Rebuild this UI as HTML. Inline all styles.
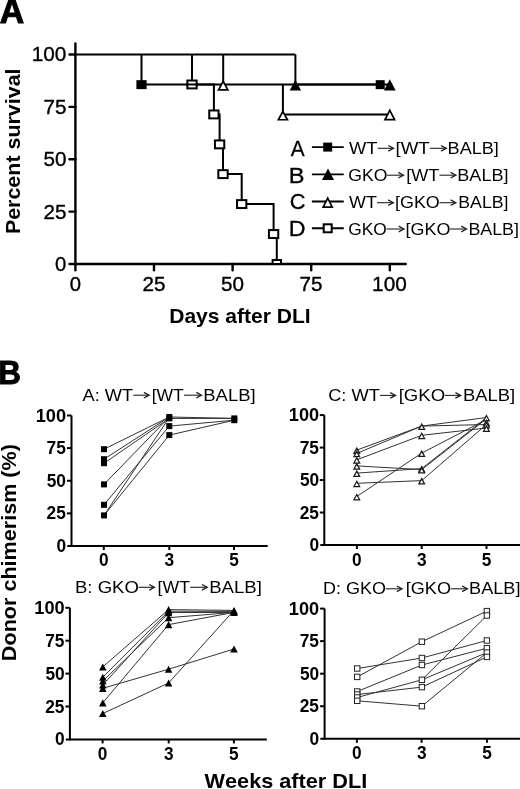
<!DOCTYPE html>
<html><head><meta charset="utf-8"><style>
html,body{margin:0;padding:0;background:#fff;}
svg{display:block;filter:grayscale(1);font-family:"Liberation Sans",sans-serif;font-kerning:none;}
</style></head><body>
<svg width="520" height="789" viewBox="0 0 520 789">
<rect width="520" height="789" fill="#fff"/>
<text x="-0.34" y="23.30" font-size="34.5" font-weight="bold" textLength="24.43" lengthAdjust="spacingAndGlyphs" fill="#000" stroke="#000" stroke-width="1.0" stroke-linejoin="miter">A</text>
<line x1="75.40" y1="43.40" x2="75.40" y2="270.20" stroke="#000" stroke-width="2.4" stroke-linecap="round"/>
<line x1="69.50" y1="264.00" x2="405.80" y2="264.00" stroke="#000" stroke-width="2.4" stroke-linecap="round"/>
<line x1="69.50" y1="54.50" x2="75.40" y2="54.50" stroke="#000" stroke-width="2.4" stroke-linecap="round"/>
<line x1="69.50" y1="106.87" x2="75.40" y2="106.87" stroke="#000" stroke-width="2.4" stroke-linecap="round"/>
<line x1="69.50" y1="159.25" x2="75.40" y2="159.25" stroke="#000" stroke-width="2.4" stroke-linecap="round"/>
<line x1="69.50" y1="211.62" x2="75.40" y2="211.62" stroke="#000" stroke-width="2.4" stroke-linecap="round"/>
<line x1="154.00" y1="264.00" x2="154.00" y2="270.20" stroke="#000" stroke-width="2.4" stroke-linecap="round"/>
<line x1="232.60" y1="264.00" x2="232.60" y2="270.20" stroke="#000" stroke-width="2.4" stroke-linecap="round"/>
<line x1="311.20" y1="264.00" x2="311.20" y2="270.20" stroke="#000" stroke-width="2.4" stroke-linecap="round"/>
<line x1="389.80" y1="264.00" x2="389.80" y2="270.20" stroke="#000" stroke-width="2.4" stroke-linecap="round"/>
<text x="31.77" y="61.40" font-size="20" stroke="#000" stroke-width="0.35" textLength="34.66" lengthAdjust="spacingAndGlyphs">100</text>
<text x="43.52" y="113.77" font-size="20" stroke="#000" stroke-width="0.35" textLength="22.98" lengthAdjust="spacingAndGlyphs">75</text>
<text x="43.45" y="166.15" font-size="20" stroke="#000" stroke-width="0.35" textLength="22.98" lengthAdjust="spacingAndGlyphs">50</text>
<text x="43.52" y="218.53" font-size="20" stroke="#000" stroke-width="0.35" textLength="22.98" lengthAdjust="spacingAndGlyphs">25</text>
<text x="55.14" y="270.90" font-size="20" stroke="#000" stroke-width="0.35" textLength="11.27" lengthAdjust="spacingAndGlyphs">0</text>
<text x="69.76" y="290.80" font-size="20" stroke="#000" stroke-width="0.35" textLength="11.27" lengthAdjust="spacingAndGlyphs">0</text>
<text x="142.43" y="290.80" font-size="20" stroke="#000" stroke-width="0.35" textLength="22.98" lengthAdjust="spacingAndGlyphs">25</text>
<text x="221.10" y="290.80" font-size="20" stroke="#000" stroke-width="0.35" textLength="22.98" lengthAdjust="spacingAndGlyphs">50</text>
<text x="299.62" y="290.80" font-size="20" stroke="#000" stroke-width="0.35" textLength="22.98" lengthAdjust="spacingAndGlyphs">75</text>
<text x="372.08" y="290.80" font-size="20" stroke="#000" stroke-width="0.35" textLength="34.66" lengthAdjust="spacingAndGlyphs">100</text>
<text transform="translate(19.90,232.70) rotate(-90)" x="-1.43" y="0" font-size="21" font-weight="bold" textLength="165.65" lengthAdjust="spacingAndGlyphs">Percent survival</text>
<text x="169.19" y="322.80" font-size="20.5" font-weight="bold" textLength="141.52" lengthAdjust="spacingAndGlyphs" fill="#000">Days after DLI</text>
<line x1="75.40" y1="54.50" x2="295.40" y2="54.50" stroke="#000" stroke-width="2.0" stroke-linecap="butt"/>
<line x1="141.50" y1="54.50" x2="141.50" y2="84.46" stroke="#000" stroke-width="2.0" stroke-linecap="butt"/>
<line x1="192.00" y1="54.50" x2="192.00" y2="84.46" stroke="#000" stroke-width="2.0" stroke-linecap="butt"/>
<line x1="223.20" y1="54.50" x2="223.20" y2="84.46" stroke="#000" stroke-width="2.0" stroke-linecap="butt"/>
<line x1="295.40" y1="54.50" x2="295.40" y2="84.46" stroke="#000" stroke-width="2.0" stroke-linecap="butt"/>
<line x1="141.50" y1="84.46" x2="380.20" y2="84.46" stroke="#000" stroke-width="2.0" stroke-linecap="butt"/>
<line x1="295.40" y1="84.46" x2="389.80" y2="84.46" stroke="#000" stroke-width="2.0" stroke-linecap="butt"/>
<path d="M192.00 84.46 L213.90 84.46 L213.90 114.42 L219.60 114.42 L219.60 144.38 L223.00 144.38 L223.00 174.12 L241.70 174.12 L241.70 204.08 L273.60 204.08 L273.60 234.04 L276.80 234.04 L276.80 264.00" stroke="#000" stroke-width="2.0" fill="none" stroke-linejoin="miter"/>
<path d="M282.90 84.46 L282.90 114.42 L389.80 114.42" stroke="#000" stroke-width="2.0" fill="none" stroke-linejoin="miter"/>
<rect x="187.35" y="80.51" width="9.30" height="7.90" fill="#fff" stroke="#000" stroke-width="2"/>
<rect x="209.25" y="110.47" width="9.30" height="7.90" fill="#fff" stroke="#000" stroke-width="2"/>
<rect x="214.95" y="140.43" width="9.30" height="7.90" fill="#fff" stroke="#000" stroke-width="2"/>
<rect x="218.35" y="170.17" width="9.30" height="7.90" fill="#fff" stroke="#000" stroke-width="2"/>
<rect x="237.05" y="200.13" width="9.30" height="7.90" fill="#fff" stroke="#000" stroke-width="2"/>
<rect x="268.95" y="230.09" width="9.30" height="7.90" fill="#fff" stroke="#000" stroke-width="2"/>
<line x1="186.00" y1="84.46" x2="198.00" y2="84.46" stroke="#000" stroke-width="2.0" stroke-linecap="butt"/>
<clipPath id="cpA"><rect x="0" y="0" width="520" height="263"/></clipPath>
<g clip-path="url(#cpA)">
<rect x="272.60" y="260.00" width="8.40" height="8.00" fill="#fff" stroke="#000" stroke-width="2"/>
</g>
<rect x="136.40" y="80.16" width="10.20" height="9.00" fill="#000"/>
<rect x="375.70" y="80.16" width="9.00" height="9.00" fill="#000"/>
<path d="M295.40 79.86L301.10 90.46L289.70 90.46Z" fill="#000"/>
<path d="M389.80 79.16L395.70 90.56L383.90 90.56Z" fill="#000"/>
<path d="M223.20 81.32L227.86 89.81L218.54 89.81Z" fill="#fff" stroke="#000" stroke-width="1.7" stroke-linejoin="miter" stroke-miterlimit="10"/>
<path d="M282.90 111.57L287.46 119.77L278.34 119.77Z" fill="#fff" stroke="#000" stroke-width="1.7" stroke-linejoin="miter" stroke-miterlimit="10"/>
<path d="M389.80 110.46L394.60 119.67L385.00 119.67Z" fill="#fff" stroke="#000" stroke-width="1.7" stroke-linejoin="miter" stroke-miterlimit="10"/>
<text x="290.71" y="156.30" font-size="22" textLength="13.88" lengthAdjust="spacingAndGlyphs" fill="#000" stroke="#000" stroke-width="0.3" stroke-linejoin="miter">A</text>
<line x1="311.90" y1="147.10" x2="343.75" y2="147.10" stroke="#000" stroke-width="1.8" stroke-linecap="butt"/>
<text x="288.81" y="182.90" font-size="22" textLength="15.79" lengthAdjust="spacingAndGlyphs" fill="#000" stroke="#000" stroke-width="0.3" stroke-linejoin="miter">B</text>
<line x1="311.90" y1="174.40" x2="343.75" y2="174.40" stroke="#000" stroke-width="1.8" stroke-linecap="butt"/>
<text x="289.64" y="209.00" font-size="22" textLength="15.74" lengthAdjust="spacingAndGlyphs" fill="#000" stroke="#000" stroke-width="0.3" stroke-linejoin="miter">C</text>
<line x1="311.90" y1="201.50" x2="343.75" y2="201.50" stroke="#000" stroke-width="1.8" stroke-linecap="butt"/>
<text x="288.84" y="235.50" font-size="22" textLength="16.83" lengthAdjust="spacingAndGlyphs" fill="#000" stroke="#000" stroke-width="0.3" stroke-linejoin="miter">D</text>
<line x1="311.90" y1="228.25" x2="343.75" y2="228.25" stroke="#000" stroke-width="1.8" stroke-linecap="butt"/>
<rect x="323.20" y="142.60" width="9.00" height="9.00" fill="#000"/>
<path d="M328.00 168.60L334.00 180.00L322.00 180.00Z" fill="#000"/>
<path d="M327.70 198.17L332.21 207.05L323.19 207.05Z" fill="#fff" stroke="#000" stroke-width="1.7" stroke-linejoin="miter" stroke-miterlimit="10"/>
<rect x="323.70" y="224.30" width="8.00" height="8.00" fill="#fff" stroke="#000" stroke-width="2"/>
<text x="349.02" y="153.50" font-size="16.8" textLength="28.40" lengthAdjust="spacingAndGlyphs" fill="#000">WT</text>
<text x="395.47" y="153.50" font-size="16.8" textLength="34.26" lengthAdjust="spacingAndGlyphs" fill="#000">[WT</text>
<text x="447.62" y="153.50" font-size="16.8" textLength="51.27" lengthAdjust="spacingAndGlyphs" fill="#000">BALB]</text>
<path d="M377.80 148.30H393.00" stroke="#222" stroke-width="1.1" fill="none"/>
<path d="M388.30 145.50L393.50 148.30L388.30 151.10" stroke="#222" stroke-width="1.35" fill="none" stroke-linejoin="miter"/>
<path d="M429.90 148.30H445.70" stroke="#222" stroke-width="1.1" fill="none"/>
<path d="M441.00 145.50L446.20 148.30L441.00 151.10" stroke="#222" stroke-width="1.35" fill="none" stroke-linejoin="miter"/>
<text x="348.21" y="180.60" font-size="16.8" textLength="39.13" lengthAdjust="spacingAndGlyphs" fill="#000">GKO</text>
<text x="406.32" y="180.60" font-size="16.8" textLength="33.00" lengthAdjust="spacingAndGlyphs" fill="#000">[WT</text>
<text x="457.32" y="180.60" font-size="16.8" textLength="51.17" lengthAdjust="spacingAndGlyphs" fill="#000">BALB]</text>
<path d="M387.00 175.20H403.00" stroke="#222" stroke-width="1.1" fill="none"/>
<path d="M398.30 172.40L403.50 175.20L398.30 178.00" stroke="#222" stroke-width="1.35" fill="none" stroke-linejoin="miter"/>
<path d="M439.50 175.20H455.30" stroke="#222" stroke-width="1.1" fill="none"/>
<path d="M450.60 172.40L455.80 175.20L450.60 178.00" stroke="#222" stroke-width="1.35" fill="none" stroke-linejoin="miter"/>
<text x="349.02" y="208.40" font-size="16.8" textLength="27.79" lengthAdjust="spacingAndGlyphs" fill="#000">WT</text>
<text x="395.02" y="208.40" font-size="16.8" textLength="44.73" lengthAdjust="spacingAndGlyphs" fill="#000">[GKO</text>
<text x="458.25" y="208.40" font-size="16.8" textLength="50.22" lengthAdjust="spacingAndGlyphs" fill="#000">BALB]</text>
<path d="M377.00 202.70H392.80" stroke="#222" stroke-width="1.1" fill="none"/>
<path d="M388.10 199.90L393.30 202.70L388.10 205.50" stroke="#222" stroke-width="1.35" fill="none" stroke-linejoin="miter"/>
<path d="M439.50 202.70H455.30" stroke="#222" stroke-width="1.1" fill="none"/>
<path d="M450.60 199.90L455.80 202.70L450.60 205.50" stroke="#222" stroke-width="1.35" fill="none" stroke-linejoin="miter"/>
<text x="348.23" y="234.60" font-size="16.8" textLength="38.60" lengthAdjust="spacingAndGlyphs" fill="#000">GKO</text>
<text x="405.52" y="234.60" font-size="16.8" textLength="44.84" lengthAdjust="spacingAndGlyphs" fill="#000">[GKO</text>
<text x="468.44" y="234.60" font-size="16.8" textLength="50.53" lengthAdjust="spacingAndGlyphs" fill="#000">BALB]</text>
<path d="M386.60 229.00H403.40" stroke="#222" stroke-width="1.1" fill="none"/>
<path d="M398.70 226.20L403.90 229.00L398.70 231.80" stroke="#222" stroke-width="1.35" fill="none" stroke-linejoin="miter"/>
<path d="M450.10 229.00H465.90" stroke="#222" stroke-width="1.1" fill="none"/>
<path d="M461.20 226.20L466.40 229.00L461.20 231.80" stroke="#222" stroke-width="1.35" fill="none" stroke-linejoin="miter"/>
<text x="-1.57" y="384.20" font-size="33.5" font-weight="bold" textLength="22.38" lengthAdjust="spacingAndGlyphs" fill="#000" stroke="#000" stroke-width="1.0" stroke-linejoin="miter">B</text>
<text transform="translate(15.80,659.70) rotate(-90)" x="-1.44" y="0" font-size="21" font-weight="bold" textLength="217.02" lengthAdjust="spacingAndGlyphs">Donor chimerism (%)</text>
<text x="204.58" y="787.80" font-size="20.5" font-weight="bold" textLength="162.67" lengthAdjust="spacingAndGlyphs" fill="#000">Weeks after DLI</text>
<text x="82.56" y="400.60" font-size="16.8" textLength="50.55" lengthAdjust="spacingAndGlyphs" fill="#000">A: WT</text>
<text x="151.65" y="400.60" font-size="16.8" textLength="32.15" lengthAdjust="spacingAndGlyphs" fill="#000">[WT</text>
<text x="203.29" y="400.60" font-size="16.8" textLength="52.33" lengthAdjust="spacingAndGlyphs" fill="#000">BALB]</text>
<path d="M133.30 395.20H148.60" stroke="#222" stroke-width="1.1" fill="none"/>
<path d="M143.90 392.40L149.10 395.20L143.90 398.00" stroke="#222" stroke-width="1.35" fill="none" stroke-linejoin="miter"/>
<path d="M184.00 395.20H201.00" stroke="#222" stroke-width="1.1" fill="none"/>
<path d="M196.30 392.40L201.50 395.20L196.30 398.00" stroke="#222" stroke-width="1.35" fill="none" stroke-linejoin="miter"/>
<text x="328.17" y="400.80" font-size="16.8" textLength="51.75" lengthAdjust="spacingAndGlyphs" fill="#000">C: WT</text>
<text x="398.67" y="400.80" font-size="16.8" textLength="46.52" lengthAdjust="spacingAndGlyphs" fill="#000">[GKO</text>
<text x="462.99" y="400.80" font-size="16.8" textLength="52.22" lengthAdjust="spacingAndGlyphs" fill="#000">BALB]</text>
<path d="M380.10 395.40H395.00" stroke="#222" stroke-width="1.1" fill="none"/>
<path d="M390.30 392.60L395.50 395.40L390.30 398.20" stroke="#222" stroke-width="1.35" fill="none" stroke-linejoin="miter"/>
<path d="M444.90 395.40H460.10" stroke="#222" stroke-width="1.1" fill="none"/>
<path d="M455.40 392.60L460.60 395.40L455.40 398.20" stroke="#222" stroke-width="1.35" fill="none" stroke-linejoin="miter"/>
<text x="74.98" y="592.80" font-size="16.8" textLength="63.91" lengthAdjust="spacingAndGlyphs" fill="#000">B: GKO</text>
<text x="157.64" y="592.80" font-size="16.8" textLength="32.36" lengthAdjust="spacingAndGlyphs" fill="#000">[WT</text>
<text x="209.18" y="592.80" font-size="16.8" textLength="52.65" lengthAdjust="spacingAndGlyphs" fill="#000">BALB]</text>
<path d="M138.60 587.30H153.90" stroke="#222" stroke-width="1.1" fill="none"/>
<path d="M149.20 584.50L154.40 587.30L149.20 590.10" stroke="#222" stroke-width="1.35" fill="none" stroke-linejoin="miter"/>
<path d="M190.20 587.30H206.70" stroke="#222" stroke-width="1.1" fill="none"/>
<path d="M202.00 584.50L207.20 587.30L202.00 590.10" stroke="#222" stroke-width="1.35" fill="none" stroke-linejoin="miter"/>
<text x="323.03" y="594.40" font-size="16.8" textLength="62.94" lengthAdjust="spacingAndGlyphs" fill="#000">D: GKO</text>
<text x="405.71" y="594.40" font-size="16.8" textLength="45.26" lengthAdjust="spacingAndGlyphs" fill="#000">[GKO</text>
<text x="469.11" y="594.40" font-size="16.8" textLength="51.38" lengthAdjust="spacingAndGlyphs" fill="#000">BALB]</text>
<path d="M385.70 588.80H401.50" stroke="#222" stroke-width="1.1" fill="none"/>
<path d="M396.80 586.00L402.00 588.80L396.80 591.60" stroke="#222" stroke-width="1.35" fill="none" stroke-linejoin="miter"/>
<path d="M450.70 588.80H466.80" stroke="#222" stroke-width="1.1" fill="none"/>
<path d="M462.10 586.00L467.30 588.80L462.10 591.60" stroke="#222" stroke-width="1.35" fill="none" stroke-linejoin="miter"/>
<line x1="71.50" y1="415.50" x2="71.50" y2="547.00" stroke="#000" stroke-width="2" stroke-linecap="butt"/>
<line x1="67.30" y1="546.00" x2="267.70" y2="546.00" stroke="#000" stroke-width="2" stroke-linecap="butt"/>
<line x1="67.00" y1="415.50" x2="71.50" y2="415.50" stroke="#000" stroke-width="2" stroke-linecap="butt"/>
<line x1="67.00" y1="448.12" x2="71.50" y2="448.12" stroke="#000" stroke-width="2" stroke-linecap="butt"/>
<line x1="67.00" y1="480.75" x2="71.50" y2="480.75" stroke="#000" stroke-width="2" stroke-linecap="butt"/>
<line x1="67.00" y1="513.38" x2="71.50" y2="513.38" stroke="#000" stroke-width="2" stroke-linecap="butt"/>
<line x1="103.80" y1="546.00" x2="103.80" y2="550.00" stroke="#000" stroke-width="2" stroke-linecap="butt"/>
<line x1="169.30" y1="546.00" x2="169.30" y2="550.00" stroke="#000" stroke-width="2" stroke-linecap="butt"/>
<line x1="234.00" y1="546.00" x2="234.00" y2="550.00" stroke="#000" stroke-width="2" stroke-linecap="butt"/>
<text x="35.68" y="421.50" font-size="17.5" font-weight="bold" textLength="30.37" lengthAdjust="spacingAndGlyphs">100</text>
<text x="46.51" y="454.12" font-size="17.5" font-weight="bold" textLength="19.27" lengthAdjust="spacingAndGlyphs">75</text>
<text x="46.74" y="486.75" font-size="17.5" font-weight="bold" textLength="19.27" lengthAdjust="spacingAndGlyphs">50</text>
<text x="46.51" y="519.38" font-size="17.5" font-weight="bold" textLength="19.27" lengthAdjust="spacingAndGlyphs">25</text>
<text x="56.38" y="552.00" font-size="17.5" font-weight="bold" textLength="9.64" lengthAdjust="spacingAndGlyphs">0</text>
<text x="99.01" y="565.60" font-size="17.8" font-weight="bold" textLength="9.60" lengthAdjust="spacingAndGlyphs">0</text>
<text x="164.61" y="565.60" font-size="17.8" font-weight="bold" textLength="9.60" lengthAdjust="spacingAndGlyphs">3</text>
<text x="229.17" y="565.60" font-size="17.8" font-weight="bold" textLength="9.60" lengthAdjust="spacingAndGlyphs">5</text>
<line x1="324.30" y1="415.10" x2="324.30" y2="546.00" stroke="#000" stroke-width="2" stroke-linecap="butt"/>
<line x1="320.30" y1="545.00" x2="521.00" y2="545.00" stroke="#000" stroke-width="2" stroke-linecap="butt"/>
<line x1="319.80" y1="415.10" x2="324.30" y2="415.10" stroke="#000" stroke-width="2" stroke-linecap="butt"/>
<line x1="319.80" y1="447.58" x2="324.30" y2="447.58" stroke="#000" stroke-width="2" stroke-linecap="butt"/>
<line x1="319.80" y1="480.05" x2="324.30" y2="480.05" stroke="#000" stroke-width="2" stroke-linecap="butt"/>
<line x1="319.80" y1="512.52" x2="324.30" y2="512.52" stroke="#000" stroke-width="2" stroke-linecap="butt"/>
<line x1="356.90" y1="545.00" x2="356.90" y2="549.00" stroke="#000" stroke-width="2" stroke-linecap="butt"/>
<line x1="421.70" y1="545.00" x2="421.70" y2="549.00" stroke="#000" stroke-width="2" stroke-linecap="butt"/>
<line x1="486.50" y1="545.00" x2="486.50" y2="549.00" stroke="#000" stroke-width="2" stroke-linecap="butt"/>
<text x="288.88" y="421.10" font-size="17.5" font-weight="bold" textLength="30.37" lengthAdjust="spacingAndGlyphs">100</text>
<text x="299.71" y="453.58" font-size="17.5" font-weight="bold" textLength="19.27" lengthAdjust="spacingAndGlyphs">75</text>
<text x="299.94" y="486.05" font-size="17.5" font-weight="bold" textLength="19.27" lengthAdjust="spacingAndGlyphs">50</text>
<text x="299.71" y="518.52" font-size="17.5" font-weight="bold" textLength="19.27" lengthAdjust="spacingAndGlyphs">25</text>
<text x="309.58" y="551.00" font-size="17.5" font-weight="bold" textLength="9.64" lengthAdjust="spacingAndGlyphs">0</text>
<text x="352.11" y="565.90" font-size="17.8" font-weight="bold" textLength="9.60" lengthAdjust="spacingAndGlyphs">0</text>
<text x="417.01" y="565.90" font-size="17.8" font-weight="bold" textLength="9.60" lengthAdjust="spacingAndGlyphs">3</text>
<text x="481.67" y="565.90" font-size="17.8" font-weight="bold" textLength="9.60" lengthAdjust="spacingAndGlyphs">5</text>
<line x1="69.90" y1="607.80" x2="69.90" y2="740.40" stroke="#000" stroke-width="2" stroke-linecap="butt"/>
<line x1="65.80" y1="739.40" x2="266.80" y2="739.40" stroke="#000" stroke-width="2" stroke-linecap="butt"/>
<line x1="65.40" y1="607.80" x2="69.90" y2="607.80" stroke="#000" stroke-width="2" stroke-linecap="butt"/>
<line x1="65.40" y1="640.70" x2="69.90" y2="640.70" stroke="#000" stroke-width="2" stroke-linecap="butt"/>
<line x1="65.40" y1="673.60" x2="69.90" y2="673.60" stroke="#000" stroke-width="2" stroke-linecap="butt"/>
<line x1="65.40" y1="706.50" x2="69.90" y2="706.50" stroke="#000" stroke-width="2" stroke-linecap="butt"/>
<line x1="102.60" y1="739.40" x2="102.60" y2="743.40" stroke="#000" stroke-width="2" stroke-linecap="butt"/>
<line x1="168.70" y1="739.40" x2="168.70" y2="743.40" stroke="#000" stroke-width="2" stroke-linecap="butt"/>
<line x1="233.90" y1="739.40" x2="233.90" y2="743.40" stroke="#000" stroke-width="2" stroke-linecap="butt"/>
<text x="34.38" y="613.80" font-size="17.5" font-weight="bold" textLength="30.37" lengthAdjust="spacingAndGlyphs">100</text>
<text x="45.21" y="646.70" font-size="17.5" font-weight="bold" textLength="19.27" lengthAdjust="spacingAndGlyphs">75</text>
<text x="45.44" y="679.60" font-size="17.5" font-weight="bold" textLength="19.27" lengthAdjust="spacingAndGlyphs">50</text>
<text x="45.21" y="712.50" font-size="17.5" font-weight="bold" textLength="19.27" lengthAdjust="spacingAndGlyphs">25</text>
<text x="55.08" y="745.40" font-size="17.5" font-weight="bold" textLength="9.64" lengthAdjust="spacingAndGlyphs">0</text>
<text x="97.81" y="759.60" font-size="17.8" font-weight="bold" textLength="9.60" lengthAdjust="spacingAndGlyphs">0</text>
<text x="164.01" y="759.60" font-size="17.8" font-weight="bold" textLength="9.60" lengthAdjust="spacingAndGlyphs">3</text>
<text x="229.07" y="759.60" font-size="17.8" font-weight="bold" textLength="9.60" lengthAdjust="spacingAndGlyphs">5</text>
<line x1="324.60" y1="608.60" x2="324.60" y2="739.80" stroke="#000" stroke-width="2" stroke-linecap="butt"/>
<line x1="320.30" y1="738.80" x2="521.00" y2="738.80" stroke="#000" stroke-width="2" stroke-linecap="butt"/>
<line x1="320.10" y1="608.60" x2="324.60" y2="608.60" stroke="#000" stroke-width="2" stroke-linecap="butt"/>
<line x1="320.10" y1="641.15" x2="324.60" y2="641.15" stroke="#000" stroke-width="2" stroke-linecap="butt"/>
<line x1="320.10" y1="673.70" x2="324.60" y2="673.70" stroke="#000" stroke-width="2" stroke-linecap="butt"/>
<line x1="320.10" y1="706.25" x2="324.60" y2="706.25" stroke="#000" stroke-width="2" stroke-linecap="butt"/>
<line x1="356.90" y1="738.80" x2="356.90" y2="742.80" stroke="#000" stroke-width="2" stroke-linecap="butt"/>
<line x1="421.60" y1="738.80" x2="421.60" y2="742.80" stroke="#000" stroke-width="2" stroke-linecap="butt"/>
<line x1="487.00" y1="738.80" x2="487.00" y2="742.80" stroke="#000" stroke-width="2" stroke-linecap="butt"/>
<text x="288.88" y="614.60" font-size="17.5" font-weight="bold" textLength="30.37" lengthAdjust="spacingAndGlyphs">100</text>
<text x="299.71" y="647.15" font-size="17.5" font-weight="bold" textLength="19.27" lengthAdjust="spacingAndGlyphs">75</text>
<text x="299.94" y="679.70" font-size="17.5" font-weight="bold" textLength="19.27" lengthAdjust="spacingAndGlyphs">50</text>
<text x="299.71" y="712.25" font-size="17.5" font-weight="bold" textLength="19.27" lengthAdjust="spacingAndGlyphs">25</text>
<text x="309.58" y="744.80" font-size="17.5" font-weight="bold" textLength="9.64" lengthAdjust="spacingAndGlyphs">0</text>
<text x="352.11" y="759.00" font-size="17.8" font-weight="bold" textLength="9.60" lengthAdjust="spacingAndGlyphs">0</text>
<text x="416.91" y="759.00" font-size="17.8" font-weight="bold" textLength="9.60" lengthAdjust="spacingAndGlyphs">3</text>
<text x="482.17" y="759.00" font-size="17.8" font-weight="bold" textLength="9.60" lengthAdjust="spacingAndGlyphs">5</text>
<line x1="104.00" y1="449.20" x2="169.30" y2="417.00" stroke="#333" stroke-width="1.0"/>
<line x1="104.00" y1="459.20" x2="169.30" y2="417.00" stroke="#333" stroke-width="1.0"/>
<line x1="104.00" y1="463.20" x2="169.30" y2="418.40" stroke="#333" stroke-width="1.0"/>
<line x1="104.00" y1="484.40" x2="169.30" y2="417.00" stroke="#333" stroke-width="1.0"/>
<line x1="104.00" y1="504.80" x2="169.30" y2="426.10" stroke="#333" stroke-width="1.0"/>
<line x1="104.00" y1="515.40" x2="169.30" y2="417.50" stroke="#333" stroke-width="1.0"/>
<line x1="104.00" y1="515.40" x2="169.30" y2="435.10" stroke="#333" stroke-width="1.0"/>
<line x1="169.30" y1="417.00" x2="234.30" y2="418.40" stroke="#333" stroke-width="1.0"/>
<line x1="169.30" y1="418.40" x2="234.30" y2="418.40" stroke="#333" stroke-width="1.0"/>
<line x1="169.30" y1="426.10" x2="234.30" y2="420.20" stroke="#333" stroke-width="1.0"/>
<line x1="169.30" y1="435.10" x2="234.30" y2="420.20" stroke="#333" stroke-width="1.0"/>
<rect x="101.00" y="446.20" width="6.00" height="6.00" fill="#000"/>
<rect x="101.00" y="456.20" width="6.00" height="6.00" fill="#000"/>
<rect x="101.00" y="460.20" width="6.00" height="6.00" fill="#000"/>
<rect x="101.00" y="481.40" width="6.00" height="6.00" fill="#000"/>
<rect x="101.00" y="501.80" width="6.00" height="6.00" fill="#000"/>
<rect x="101.00" y="512.40" width="6.00" height="6.00" fill="#000"/>
<rect x="166.30" y="414.00" width="6.00" height="6.00" fill="#000"/>
<rect x="166.30" y="415.40" width="6.00" height="6.00" fill="#000"/>
<rect x="166.30" y="423.10" width="6.00" height="6.00" fill="#000"/>
<rect x="166.30" y="432.10" width="6.00" height="6.00" fill="#000"/>
<rect x="231.30" y="415.40" width="6.00" height="6.00" fill="#000"/>
<rect x="231.30" y="417.20" width="6.00" height="6.00" fill="#000"/>
<line x1="356.80" y1="450.10" x2="421.70" y2="426.10" stroke="#333" stroke-width="1.0"/>
<line x1="356.80" y1="453.40" x2="421.70" y2="426.10" stroke="#333" stroke-width="1.0"/>
<line x1="356.80" y1="459.80" x2="421.70" y2="435.30" stroke="#333" stroke-width="1.0"/>
<line x1="356.80" y1="465.90" x2="421.70" y2="469.60" stroke="#333" stroke-width="1.0"/>
<line x1="356.80" y1="473.10" x2="421.70" y2="468.60" stroke="#333" stroke-width="1.0"/>
<line x1="356.80" y1="483.30" x2="421.70" y2="480.60" stroke="#333" stroke-width="1.0"/>
<line x1="356.80" y1="496.50" x2="421.70" y2="453.10" stroke="#333" stroke-width="1.0"/>
<line x1="421.70" y1="426.10" x2="486.40" y2="417.50" stroke="#333" stroke-width="1.0"/>
<line x1="421.70" y1="426.10" x2="486.40" y2="424.50" stroke="#333" stroke-width="1.0"/>
<line x1="421.70" y1="435.30" x2="486.40" y2="428.00" stroke="#333" stroke-width="1.0"/>
<line x1="421.70" y1="453.10" x2="486.40" y2="419.50" stroke="#333" stroke-width="1.0"/>
<line x1="421.70" y1="468.60" x2="486.40" y2="417.80" stroke="#333" stroke-width="1.0"/>
<line x1="421.70" y1="469.60" x2="486.40" y2="418.80" stroke="#333" stroke-width="1.0"/>
<line x1="421.70" y1="480.60" x2="486.40" y2="424.50" stroke="#333" stroke-width="1.0"/>
<path d="M356.80 448.11L359.65 453.38L353.95 453.38Z" fill="#fff" stroke="#1a1a1a" stroke-width="1.25" stroke-linejoin="miter" stroke-miterlimit="10"/>
<path d="M356.80 451.41L359.65 456.67L353.95 456.67Z" fill="#fff" stroke="#1a1a1a" stroke-width="1.25" stroke-linejoin="miter" stroke-miterlimit="10"/>
<path d="M356.80 457.81L359.65 463.07L353.95 463.07Z" fill="#fff" stroke="#1a1a1a" stroke-width="1.25" stroke-linejoin="miter" stroke-miterlimit="10"/>
<path d="M356.80 463.91L359.65 469.17L353.95 469.17Z" fill="#fff" stroke="#1a1a1a" stroke-width="1.25" stroke-linejoin="miter" stroke-miterlimit="10"/>
<path d="M356.80 471.11L359.65 476.38L353.95 476.38Z" fill="#fff" stroke="#1a1a1a" stroke-width="1.25" stroke-linejoin="miter" stroke-miterlimit="10"/>
<path d="M356.80 481.31L359.65 486.57L353.95 486.57Z" fill="#fff" stroke="#1a1a1a" stroke-width="1.25" stroke-linejoin="miter" stroke-miterlimit="10"/>
<path d="M356.80 494.51L359.65 499.77L353.95 499.77Z" fill="#fff" stroke="#1a1a1a" stroke-width="1.25" stroke-linejoin="miter" stroke-miterlimit="10"/>
<path d="M421.70 424.11L424.55 429.38L418.85 429.38Z" fill="#fff" stroke="#1a1a1a" stroke-width="1.25" stroke-linejoin="miter" stroke-miterlimit="10"/>
<path d="M421.70 433.31L424.55 438.57L418.85 438.57Z" fill="#fff" stroke="#1a1a1a" stroke-width="1.25" stroke-linejoin="miter" stroke-miterlimit="10"/>
<path d="M421.70 451.11L424.55 456.38L418.85 456.38Z" fill="#fff" stroke="#1a1a1a" stroke-width="1.25" stroke-linejoin="miter" stroke-miterlimit="10"/>
<path d="M421.70 466.61L424.55 471.88L418.85 471.88Z" fill="#fff" stroke="#1a1a1a" stroke-width="1.25" stroke-linejoin="miter" stroke-miterlimit="10"/>
<path d="M421.70 467.61L424.55 472.88L418.85 472.88Z" fill="#fff" stroke="#1a1a1a" stroke-width="1.25" stroke-linejoin="miter" stroke-miterlimit="10"/>
<path d="M421.70 478.61L424.55 483.88L418.85 483.88Z" fill="#fff" stroke="#1a1a1a" stroke-width="1.25" stroke-linejoin="miter" stroke-miterlimit="10"/>
<path d="M486.40 415.51L489.25 420.77L483.55 420.77Z" fill="#fff" stroke="#1a1a1a" stroke-width="1.25" stroke-linejoin="miter" stroke-miterlimit="10"/>
<path d="M486.40 420.31L489.25 425.57L483.55 425.57Z" fill="#fff" stroke="#1a1a1a" stroke-width="1.25" stroke-linejoin="miter" stroke-miterlimit="10"/>
<path d="M486.40 422.51L489.25 427.77L483.55 427.77Z" fill="#fff" stroke="#1a1a1a" stroke-width="1.25" stroke-linejoin="miter" stroke-miterlimit="10"/>
<path d="M486.40 426.01L489.25 431.27L483.55 431.27Z" fill="#fff" stroke="#1a1a1a" stroke-width="1.25" stroke-linejoin="miter" stroke-miterlimit="10"/>
<line x1="102.80" y1="666.90" x2="168.60" y2="609.60" stroke="#333" stroke-width="1.0"/>
<line x1="102.80" y1="677.20" x2="168.60" y2="611.20" stroke="#333" stroke-width="1.0"/>
<line x1="102.80" y1="681.00" x2="168.60" y2="617.70" stroke="#333" stroke-width="1.0"/>
<line x1="102.80" y1="685.00" x2="168.60" y2="612.60" stroke="#333" stroke-width="1.0"/>
<line x1="102.80" y1="688.30" x2="168.60" y2="669.20" stroke="#333" stroke-width="1.0"/>
<line x1="102.80" y1="702.80" x2="168.60" y2="624.60" stroke="#333" stroke-width="1.0"/>
<line x1="102.80" y1="713.50" x2="168.60" y2="683.00" stroke="#333" stroke-width="1.0"/>
<line x1="168.60" y1="609.60" x2="234.00" y2="610.40" stroke="#333" stroke-width="1.0"/>
<line x1="168.60" y1="611.20" x2="234.00" y2="611.40" stroke="#333" stroke-width="1.0"/>
<line x1="168.60" y1="612.60" x2="234.00" y2="612.40" stroke="#333" stroke-width="1.0"/>
<line x1="168.60" y1="617.70" x2="234.00" y2="612.40" stroke="#333" stroke-width="1.0"/>
<line x1="168.60" y1="624.60" x2="234.00" y2="612.40" stroke="#333" stroke-width="1.0"/>
<line x1="168.60" y1="669.20" x2="234.00" y2="649.00" stroke="#333" stroke-width="1.0"/>
<line x1="168.60" y1="683.00" x2="234.00" y2="610.40" stroke="#333" stroke-width="1.0"/>
<path d="M102.80 663.40L106.55 670.50L99.05 670.50Z" fill="#000"/>
<path d="M102.80 673.70L106.55 680.80L99.05 680.80Z" fill="#000"/>
<path d="M102.80 677.50L106.55 684.60L99.05 684.60Z" fill="#000"/>
<path d="M102.80 681.50L106.55 688.60L99.05 688.60Z" fill="#000"/>
<path d="M102.80 684.80L106.55 691.90L99.05 691.90Z" fill="#000"/>
<path d="M102.80 699.30L106.55 706.40L99.05 706.40Z" fill="#000"/>
<path d="M102.80 710.00L106.55 717.10L99.05 717.10Z" fill="#000"/>
<path d="M168.60 606.10L172.35 613.20L164.85 613.20Z" fill="#000"/>
<path d="M168.60 607.70L172.35 614.80L164.85 614.80Z" fill="#000"/>
<path d="M168.60 609.10L172.35 616.20L164.85 616.20Z" fill="#000"/>
<path d="M168.60 614.20L172.35 621.30L164.85 621.30Z" fill="#000"/>
<path d="M168.60 621.10L172.35 628.20L164.85 628.20Z" fill="#000"/>
<path d="M168.60 665.70L172.35 672.80L164.85 672.80Z" fill="#000"/>
<path d="M168.60 679.50L172.35 686.60L164.85 686.60Z" fill="#000"/>
<path d="M234.00 606.90L237.75 614.00L230.25 614.00Z" fill="#000"/>
<path d="M234.00 607.90L237.75 615.00L230.25 615.00Z" fill="#000"/>
<path d="M234.00 608.90L237.75 616.00L230.25 616.00Z" fill="#000"/>
<path d="M234.00 645.50L237.75 652.60L230.25 652.60Z" fill="#000"/>
<line x1="357.20" y1="668.50" x2="421.90" y2="658.00" stroke="#333" stroke-width="1.0"/>
<line x1="357.20" y1="676.90" x2="421.90" y2="641.70" stroke="#333" stroke-width="1.0"/>
<line x1="357.20" y1="691.50" x2="421.90" y2="665.00" stroke="#333" stroke-width="1.0"/>
<line x1="357.20" y1="694.50" x2="421.90" y2="687.10" stroke="#333" stroke-width="1.0"/>
<line x1="357.20" y1="697.50" x2="421.90" y2="679.80" stroke="#333" stroke-width="1.0"/>
<line x1="357.20" y1="700.80" x2="421.90" y2="706.20" stroke="#333" stroke-width="1.0"/>
<line x1="421.90" y1="641.70" x2="486.90" y2="611.10" stroke="#333" stroke-width="1.0"/>
<line x1="421.90" y1="658.00" x2="486.90" y2="640.50" stroke="#333" stroke-width="1.0"/>
<line x1="421.90" y1="665.00" x2="486.90" y2="648.20" stroke="#333" stroke-width="1.0"/>
<line x1="421.90" y1="679.80" x2="486.90" y2="615.50" stroke="#333" stroke-width="1.0"/>
<line x1="421.90" y1="679.80" x2="486.90" y2="652.60" stroke="#333" stroke-width="1.0"/>
<line x1="421.90" y1="687.10" x2="486.90" y2="656.90" stroke="#333" stroke-width="1.0"/>
<line x1="421.90" y1="706.20" x2="486.90" y2="652.60" stroke="#333" stroke-width="1.0"/>
<rect x="354.50" y="665.80" width="5.40" height="5.40" fill="#fff" stroke="#222" stroke-width="1.0"/>
<rect x="354.50" y="674.20" width="5.40" height="5.40" fill="#fff" stroke="#222" stroke-width="1.0"/>
<rect x="354.50" y="688.80" width="5.40" height="5.40" fill="#fff" stroke="#222" stroke-width="1.0"/>
<rect x="354.50" y="691.80" width="5.40" height="5.40" fill="#fff" stroke="#222" stroke-width="1.0"/>
<rect x="354.50" y="694.80" width="5.40" height="5.40" fill="#fff" stroke="#222" stroke-width="1.0"/>
<rect x="354.50" y="698.10" width="5.40" height="5.40" fill="#fff" stroke="#222" stroke-width="1.0"/>
<rect x="419.20" y="639.00" width="5.40" height="5.40" fill="#fff" stroke="#222" stroke-width="1.0"/>
<rect x="419.20" y="655.30" width="5.40" height="5.40" fill="#fff" stroke="#222" stroke-width="1.0"/>
<rect x="419.20" y="662.30" width="5.40" height="5.40" fill="#fff" stroke="#222" stroke-width="1.0"/>
<rect x="419.20" y="677.10" width="5.40" height="5.40" fill="#fff" stroke="#222" stroke-width="1.0"/>
<rect x="419.20" y="684.40" width="5.40" height="5.40" fill="#fff" stroke="#222" stroke-width="1.0"/>
<rect x="419.20" y="703.50" width="5.40" height="5.40" fill="#fff" stroke="#222" stroke-width="1.0"/>
<rect x="484.20" y="608.40" width="5.40" height="5.40" fill="#fff" stroke="#222" stroke-width="1.0"/>
<rect x="484.20" y="612.80" width="5.40" height="5.40" fill="#fff" stroke="#222" stroke-width="1.0"/>
<rect x="484.20" y="637.80" width="5.40" height="5.40" fill="#fff" stroke="#222" stroke-width="1.0"/>
<rect x="484.20" y="645.50" width="5.40" height="5.40" fill="#fff" stroke="#222" stroke-width="1.0"/>
<rect x="484.20" y="649.90" width="5.40" height="5.40" fill="#fff" stroke="#222" stroke-width="1.0"/>
<rect x="484.20" y="654.20" width="5.40" height="5.40" fill="#fff" stroke="#222" stroke-width="1.0"/>
</svg></body></html>
